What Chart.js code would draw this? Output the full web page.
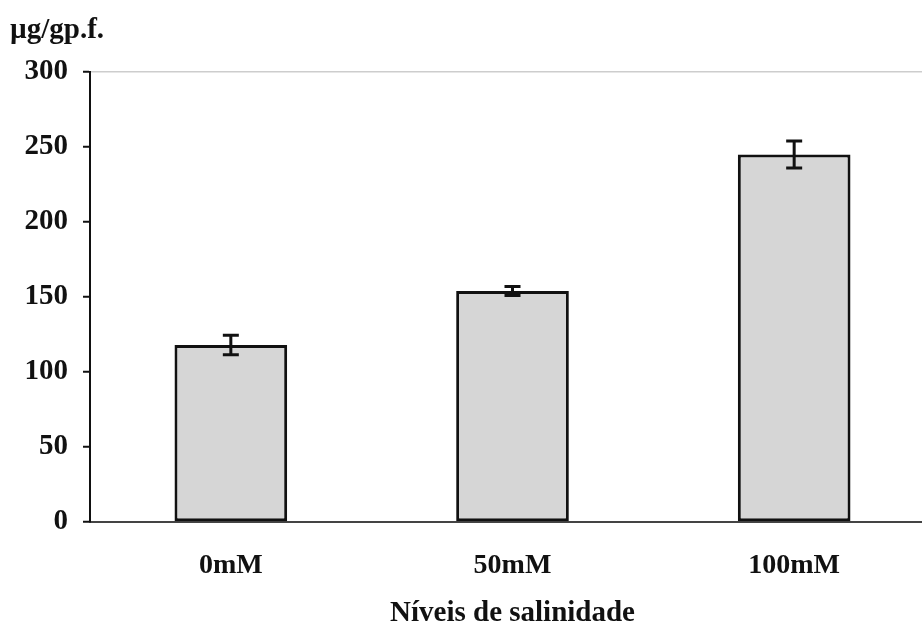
<!DOCTYPE html>
<html>
<head>
<meta charset="utf-8">
<script src="https://cdn.jsdelivr.net/npm/chart.js@4.4.1/dist/chart.umd.min.js"></script>
<style>
  html, body { margin: 0; padding: 0; background: #fff; overflow: hidden; }
  #wrap { width: 935px; height: 628px; }
</style>
</head>
<body>
<div id="wrap"><canvas id="grafico"></canvas></div>
<script>
// dados
const categorias = ['0mM', '50mM', '100mM'];
const medias = [118, 154, 245];
const erros = [6.5, 3, 9];
const ticksY = [0, 50, 100, 150, 200, 250, 300];

const fonte = "'Liberation Serif', 'Times New Roman', serif";

// barras de erro desenhadas por cima das barras
const barrasErro = {
    id: 'barrasErro',
    afterDatasetsDraw(chart) {
        const ctx = chart.ctx;
        const y = chart.scales.y;
        const meta = chart.getDatasetMeta(0);
        ctx.save();
        ctx.strokeStyle = '#111';
        ctx.lineWidth = 3;
        meta.data.forEach((bar, i) => {
            const topo = y.getPixelForValue(medias[i] + erros[i]);
            const base = y.getPixelForValue(medias[i] - erros[i]);
            ctx.beginPath();
            ctx.moveTo(bar.x, topo);
            ctx.lineTo(bar.x, base);
            ctx.moveTo(bar.x - 8, topo);
            ctx.lineTo(bar.x + 8, topo);
            ctx.moveTo(bar.x - 8, base);
            ctx.lineTo(bar.x + 8, base);
            ctx.stroke();
        });
        ctx.restore();
    }
};

// unidade no canto superior esquerdo
const unidade = {
    id: 'unidade',
    afterDraw(chart) {
        const ctx = chart.ctx;
        ctx.save();
        ctx.font = "bold 29px " + fonte;
        ctx.fillStyle = '#111';
        ctx.textBaseline = 'alphabetic';
        ctx.fillText('µg/gp.f.', 10, 38);
        ctx.restore();
    }
};

const ctx = document.getElementById('grafico').getContext('2d');
new Chart(ctx, {
    type: 'bar',
    data: {
        labels: categorias,
        datasets: [{
            data: medias,
            backgroundColor: '#d6d6d6',
            borderColor: '#111',
            borderWidth: 3,
            borderSkipped: false,
            barPercentage: 0.40,
            categoryPercentage: 1.0
        }]
    },
    options: {
        responsive: true,
        maintainAspectRatio: false,
        animation: false,
        layout: { padding: { top: 72, left: 0, right: 0, bottom: 0 } },
        plugins: {
            legend: { display: false },
            tooltip: { enabled: false }
        },
        scales: {
            x: {
                grid: { display: false, drawTicks: false },
                border: { display: true, color: '#444', width: 2 },
                ticks: {
                    color: '#111',
                    padding: 27,
                    font: { family: fonte, size: 28, weight: 'bold' }
                },
                title: {
                    display: true,
                    text: 'Níveis de salinidade',
                    color: '#111',
                    padding: { top: 0, bottom: 0 },
                    font: { family: fonte, size: 29, weight: 'bold', lineHeight: 1.0 }
                },
                afterFit(scale) { scale.height = 106; }
            },
            y: {
                min: 0,
                max: 300,
                afterBuildTicks(scale) {
                    scale.ticks = ticksY.map(v => ({ value: v }));
                },
                grid: {
                    color: (c) => (c.tick && c.tick.value === 300) ? '#cdcdcd' : 'transparent',
                    lineWidth: 1.5,
                    drawTicks: true,
                    tickLength: 7,
                    tickColor: '#111',
                    tickWidth: 2
                },
                border: { display: true, color: '#111', width: 2 },
                ticks: {
                    color: '#111',
                    padding: 15,
                    font: { family: fonte, size: 29, weight: 'bold' }
                },
                afterFit(scale) { scale.width = 90; }
            }
        }
    },
    plugins: [barrasErro, unidade]
});
</script>
</body>
</html>
